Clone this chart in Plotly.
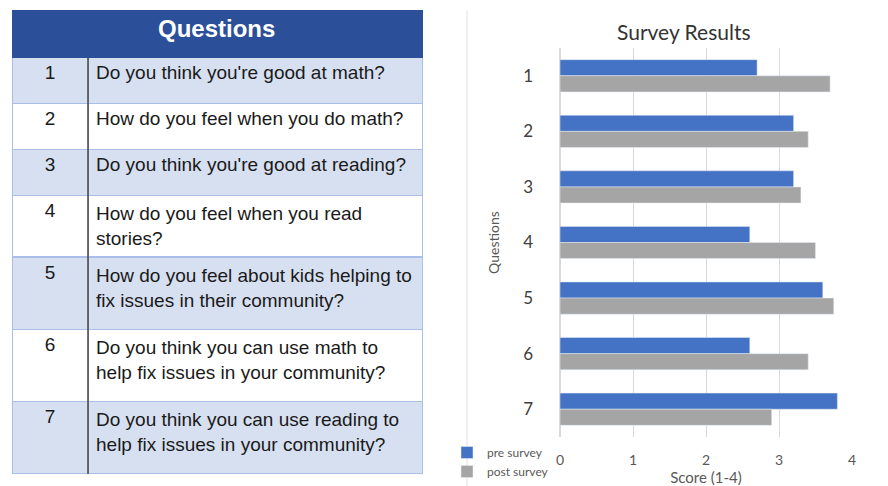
import plotly.graph_objects as go

# ---- data ----
questions = ["1", "2", "3", "4", "5", "6", "7"]
question_texts = [
    "Do you think you're good at math?",
    "How do you feel when you do math?",
    "Do you think you're good at reading?",
    "How do you feel when you read<br>stories?",
    "How do you feel about kids helping to<br>fix issues in their community?",
    "Do you think you can use math to<br>help fix issues in your community?",
    "Do you think you can use reading to<br>help fix issues in your community?",
]
pre_survey = [2.7, 3.2, 3.2, 2.6, 3.6, 2.6, 3.8]
post_survey = [3.7, 3.4, 3.3, 3.5, 3.75, 3.4, 2.9]
x_ticks = [0, 1, 2, 3, 4]

# page is offset by the 8px body margin; build the figure to fit the window
OFF = 8
W, H = 888 - OFF, 486 - OFF
def px(x): return (x - OFF) / W
def py(y): return 1 - (y - OFF) / H

fig = go.Figure()

# ---- table (two parts so the taller rows keep their height) ----
row_fill = ["#d7e0f1" if i % 2 == 0 else "#ffffff" for i in range(len(questions))]
cell_font = dict(family="Liberation Sans, Arial, sans-serif", size=19, color="#1a1a1a")
line_col = "#a9bfe8"
split = 4
fig.add_trace(go.Table(
    domain=dict(x=[px(12), px(422)], y=[py(257), py(10)]),
    columnwidth=[76, 334],
    header=dict(values=["", ""], fill_color="#2c4f9a", line_color="#2c4f9a",
                height=47, font=dict(color="white", size=20)),
    cells=dict(values=[questions[:split], question_texts[:split]],
               fill_color=[row_fill[:split], row_fill[:split]],
               line_color=line_col, align=["center", "left"], height=46, font=cell_font),
))
# lower part: its first row is drawn as the (light) header row
fig.add_trace(go.Table(
    domain=dict(x=[px(12), px(422)], y=[0, py(257)]),
    columnwidth=[76, 334],
    header=dict(values=[questions[split], question_texts[split]],
                fill_color=row_fill[split], line_color=line_col,
                align=["center", "left"], height=72, font=cell_font),
    cells=dict(values=[questions[split + 1:], question_texts[split + 1:]],
               fill_color=[row_fill[split + 1:], row_fill[split + 1:]],
               line_color=line_col, align=["center", "left"], height=72, font=cell_font),
))

# ---- bars ----
fig.add_trace(go.Bar(y=questions, x=pre_survey, orientation="h", name="pre survey",
                     marker=dict(color="#4472c4")))
fig.add_trace(go.Bar(y=questions, x=post_survey, orientation="h", name="post survey",
                     marker=dict(color="#a5a5a5")))

chart_font = "Lato, Carlito, sans-serif"
fig.update_layout(
    width=W, height=H,
    margin=dict(l=0, r=0, t=0, b=0),
    paper_bgcolor="white", plot_bgcolor="white",
    barmode="group", bargap=0.42, bargroupgap=0,
    font=dict(family=chart_font, color="#404040"),
    xaxis=dict(domain=[px(560), px(852)], range=[0, 4], tickvals=x_ticks, automargin=False,
               showgrid=True, gridcolor="#d9d9d9", zeroline=True, zerolinecolor="#d9d9d9",
               showline=False, tickfont=dict(size=14, color="#595959"), ticklabelstandoff=13,
               title=dict(text="Score (1-4)", font=dict(size=15, color="#595959"), standoff=0)),
    yaxis=dict(domain=[py(437), py(48)], autorange="reversed", type="category", automargin=False,
               showgrid=False, tickfont=dict(size=17, color="#404040"), ticklabelstandoff=26,
               title=dict(text="Questions", font=dict(size=14, color="#595959"), standoff=20)),
    showlegend=True,
    legend=dict(x=px(447), y=0, xanchor="left", yanchor="bottom",
                font=dict(size=12, color="#595959"), bgcolor="rgba(0,0,0,0)",
                tracegroupgap=0, itemwidth=30),
    annotations=[
        dict(text="<b>Questions</b>", x=px(216), y=py(29), xref="paper", yref="paper",
             xanchor="center", yanchor="middle",
             showarrow=False, font=dict(family="Liberation Sans, Arial, sans-serif", size=24, color="white")),
        dict(text="Survey Results", x=px(684), y=py(31), xref="paper", yref="paper",
             xanchor="center", yanchor="middle",
             showarrow=False, font=dict(family=chart_font, size=21, color="#333333")),
    ],
    shapes=[
        dict(type="line", xref="paper", yref="paper", x0=px(88), x1=px(88), y0=py(58), y1=py(474),
             line=dict(color="#444444", width=1.5)),
        dict(type="line", xref="paper", yref="paper", x0=px(467), x1=px(467), y0=py(10), y1=0,
             line=dict(color="#e0e0e0", width=1)),
    ],
)

fig.write_html("out.html")
